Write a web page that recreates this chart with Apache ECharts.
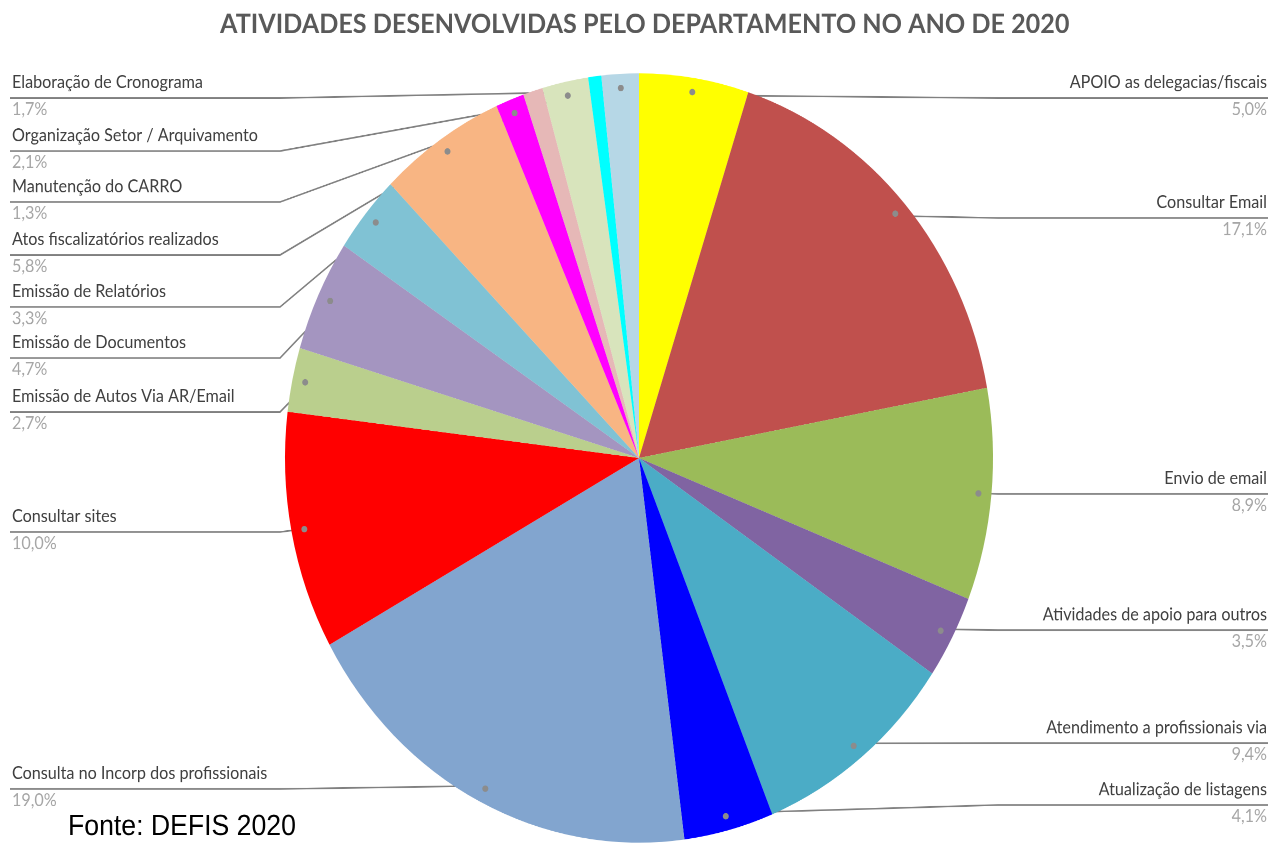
<!DOCTYPE html>
<html><head><meta charset="utf-8">
<script src="https://cdn.jsdelivr.net/npm/echarts@6/dist/echarts.min.js"></script>
<style>
html{overflow:hidden;}
html,body{margin:0;padding:0;background:#fff;}
body{width:1268px;height:854px;}
#main{width:1268px;height:786px;transform:scaleY(1.086514);transform-origin:0 0;}
</style>
</head><body><div id="main"></div>
<script>
// ---------- data ----------
const TITLE = 'ATIVIDADES DESENVOLVIDAS PELO DEPARTAMENTO NO ANO DE 2020';
const SOURCE = 'Fonte: DEFIS 2020';
const categories = [
  'APOIO as delegacias/fiscais',
  'Consultar Email',
  'Envio de email',
  'Atividades de apoio para outros',
  'Atendimento a profissionais via',
  'Atualização de listagens',
  'Consulta no Incorp dos profissionais',
  'Consultar sites',
  'Emissão de Autos Via AR/Email',
  'Emissão de Documentos',
  'Emissão de Relatórios',
  'Atos fiscalizatórios realizados',
  'Manutenção do CARRO',
  'Outra atividade (sem rótulo) A',
  'Organização Setor / Arquivamento',
  'Outra atividade (sem rótulo) B',
  'Elaboração de Cronograma'
];
const values = [5.0, 17.1, 8.9, 3.5, 9.4, 4.1, 19.0, 10.0, 2.7, 4.7, 3.3, 5.8, 1.3, 0.9, 2.1, 0.6, 1.7];
const labelled = [true, true, true, true, true, true, true, true, true, true, true, true, true, false, true, false, true];

// ---------- styles / layout ----------
const colors = ['#FFFF00', '#C0504D', '#9BBB59', '#8064A2', '#4BACC6', '#0000FF', '#82A5CF', '#FF0000',
  '#BACF8D', '#A495C0', '#80C2D4', '#F8B583', '#FF00FF', '#E6B8B7', '#D8E4BC', '#00FFFF', '#B6D7E6'];
const SY = 854 / 786;
const CX = 639, CY = 458 / SY, R = 354;
const DOT_R = 338;
// y of each label's leader line, in page pixels
const LABEL_LINE_Y = [98, 218, 494, 630, 743, 805, 789, 532, 412, 358, 307, 255, 202, null, 151, null, 98];
const LEFT_TEXT_X = 12, RIGHT_TEXT_X = 1267, LEFT_ELBOW = 280, RIGHT_ELBOW = 998;
const NAME_LH = 28.6, PCT_LH = 21;

function fit(text, font, target) {
  const c = document.createElement('canvas').getContext('2d');
  c.font = font + ' 100px ' + '"Lato"';
  return 100 * target / c.measureText(text).width;
}
const LABEL_FS = fit('Elaboração de Cronograma', 'normal', 191);
const TITLE_FS = fit(TITLE, 'bold', 850);
const srcCtx = document.createElement('canvas').getContext('2d');
srcCtx.font = '100px "Liberation Sans"';
const SRC_FS = 100 * 228 / srcCtx.measureText(SOURCE).width;

function pct(v) { return v.toFixed(1).replace('.', ',') + '%'; }

const mainData = categories.map((n, i) => {
  const d = { name: n, value: values[i], itemStyle: { color: colors[i] } };
  if (!labelled[i]) { d.label = { show: false }; d.labelLine = { show: false }; }
  return d;
});
const dotData = categories.map((n, i) => ({ name: n, value: values[i], label: { show: labelled[i] } }));

const chart = echarts.init(document.getElementById('main'), null, { renderer: 'canvas', devicePixelRatio: 2 });
chart.setOption({
  backgroundColor: '#ffffff',
  animation: false,
  title: {
    text: TITLE,
    left: 640 - 425,
    top: 5,
    textStyle: { fontFamily: 'Lato', fontWeight: 'bold', fontSize: TITLE_FS, color: '#595959' }
  },
  graphic: [{
    type: 'text', left: 68, top: 828 / SY - SRC_FS * 0.55,
    style: { text: SOURCE, font: SRC_FS.toFixed(2) + 'px "Liberation Sans", Arial, sans-serif', fill: '#000000' }
  }],
  series: [
    {
      type: 'pie',
      center: [CX, CY],
      radius: [0, R],
      startAngle: 90,
      clockwise: true,
      avoidLabelOverlap: false,
      emphasis: { disabled: true },
      itemStyle: { borderWidth: 0 },
      label: {
        show: true,
        position: 'outside',
        formatter: p => '{n|' + p.name + '}\n{p|' + pct(p.value) + '}',
        rich: {
          n: { fontFamily: 'Lato', fontSize: LABEL_FS, color: '#404040', lineHeight: NAME_LH },
          p: { fontFamily: 'Lato', fontSize: LABEL_FS, color: '#A6A6A6', lineHeight: PCT_LH }
        }
      },
      labelLine: { show: true, length: 10, length2: 10, smooth: false, lineStyle: { color: '#808080', width: 1.5 } },
      labelLayout: function (p) {
        const i = p.dataIndex;
        if (LABEL_LINE_Y[i] == null || !p.labelLinePoints) return {};
        const e = p.labelLinePoints[0];
        const dx = e[0] - CX, dy = e[1] - CY, d = Math.hypot(dx, dy);
        const sx = CX + dx / d * DOT_R, sy = CY + dy / d * DOT_R;
        const ly = LABEL_LINE_Y[i] / SY;
        const left = dx < 0;
        return {
          x: left ? LEFT_TEXT_X : RIGHT_TEXT_X,
          y: ly - NAME_LH,
          align: left ? 'left' : 'right',
          verticalAlign: 'top',
          labelLinePoints: [[sx, sy], [left ? LEFT_ELBOW : RIGHT_ELBOW, ly], [left ? 10 : 1268, ly]]
        };
      },
      data: mainData
    },
    {
      type: 'pie',
      silent: true,
      center: [CX, CY],
      radius: [2 * DOT_R - R, R],
      startAngle: 90,
      clockwise: true,
      avoidLabelOverlap: false,
      itemStyle: { color: 'rgba(0,0,0,0)', borderWidth: 0 },
      label: {
        position: 'inside',
        formatter: '{d|}',
        rich: { d: { width: 6, height: 6, borderRadius: 3, backgroundColor: '#8c8c8c' } }
      },
      labelLine: { show: false },
      data: dotData,
      z: 3
    }
  ]
});
</script>
</body></html>
